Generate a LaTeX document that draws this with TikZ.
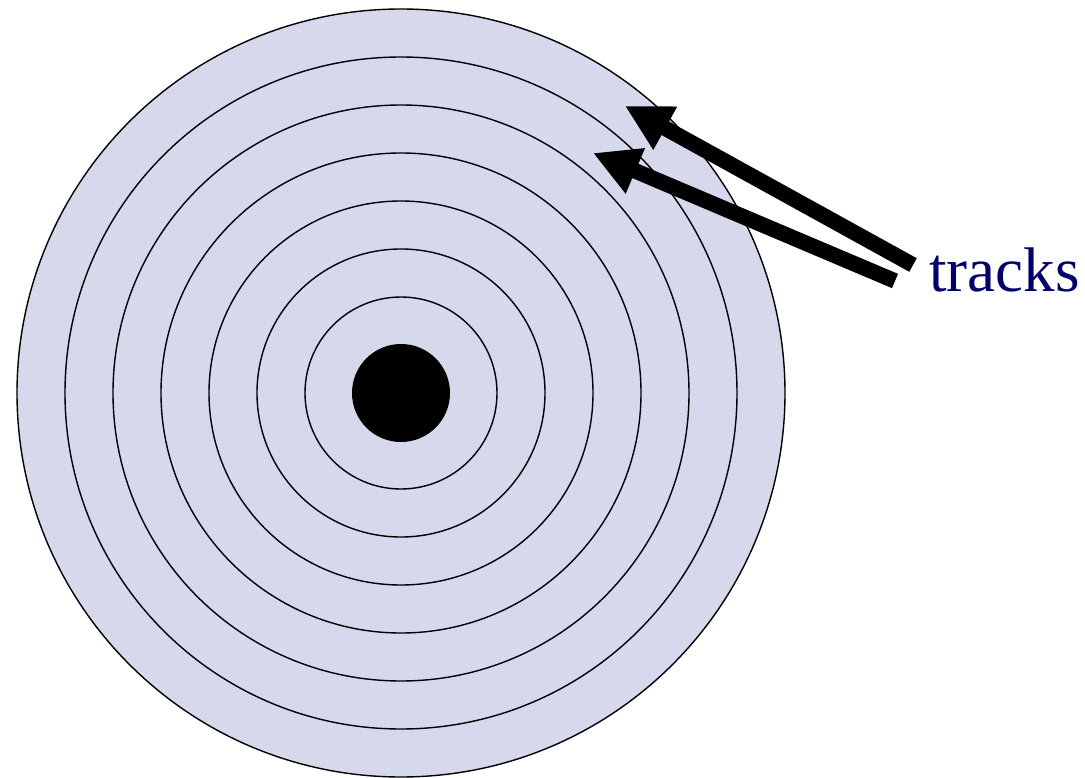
\documentclass[tikz,border=0pt]{standalone}
\usepackage{fontspec}
\setmainfont{Liberation Serif}
\usetikzlibrary{arrows.meta}
\definecolor{disk}{RGB}{214,216,235}
\definecolor{navy}{RGB}{0,0,110}
\tikzset{
  track/.style={circle, draw=black, line width=1.4pt, inner sep=0pt, minimum size=#1},
  pointer/.style={line width=15.5pt, -{Triangle[length=46pt,width=46pt]}},
  label/.style={text=navy, font=\fontsize{63}{70}\selectfont, inner sep=0pt, anchor=base west}
}
\begin{document}
\begin{tikzpicture}[x=1pt,y=-1pt]
\useasboundingbox (0,0) rectangle (1085,778);
\coordinate (ctr) at (401,393);
\node[track=768pt, fill=disk] (t1) at (ctr) {};
\node[track=672pt] (t2) at (ctr) {};
\node[track=576pt] (t3) at (ctr) {};
\node[track=480pt] (t4) at (ctr) {};
\node[track=384pt] (t5) at (ctr) {};
\node[track=288pt] (t6) at (ctr) {};
\node[track=192pt] (t7) at (ctr) {};
\node[circle, fill=black, inner sep=0pt, minimum size=98pt] (hole) at (ctr) {};
\node[label] (lbl) at (929,292) {tracks};
\coordinate (s1) at (913,265);
\coordinate (e1) at (625,106);
\coordinate (s2) at (895,281);
\coordinate (e2) at (593,153);
\draw[pointer] (s1) -- (e1);
\draw[pointer] (s2) -- (e2);
\end{tikzpicture}
\end{document}
